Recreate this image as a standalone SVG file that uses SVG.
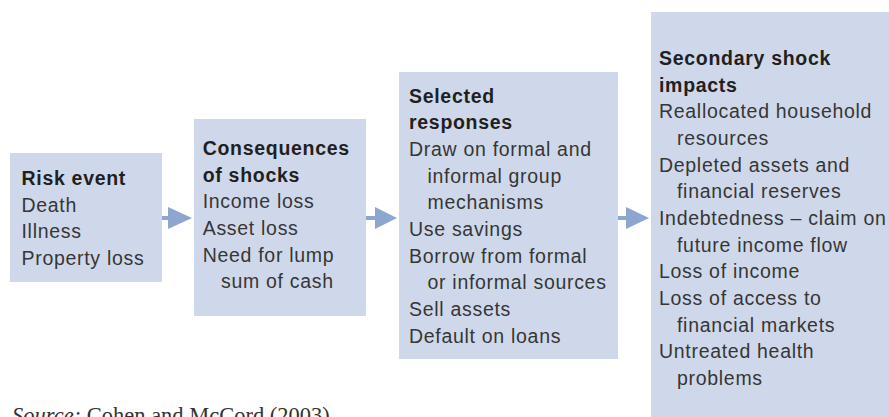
<svg xmlns="http://www.w3.org/2000/svg" width="889" height="417" viewBox="0 0 889 417">
<style>
.box{fill:#cfd8ea}
.t{font-family:"Liberation Sans",Arial,sans-serif;font-size:19.5px;letter-spacing:0.7px;fill:#363636}
.b{font-weight:bold;fill:#231f20}
.ln{stroke:#8ea6cf;stroke-width:4;fill:none}
.hd{fill:#8ea6cf}
.src{font-family:"Liberation Serif","Times New Roman",serif;font-size:22.5px;fill:#333}
</style>
<rect width="889" height="417" fill="#fff"/>
<g id="risk-event">
<rect class="box" x="10" y="153" width="152" height="129"/>
<text class="t"><tspan class="b" x="21.5" y="185">Risk event</tspan><tspan x="21.5" y="211.7">Death</tspan><tspan x="21.5" y="238.3">Illness</tspan><tspan x="21.5" y="265">Property loss</tspan></text>
</g>
<g id="consequences">
<rect class="box" x="194" y="119" width="172" height="197"/>
<text class="t"><tspan class="b" x="202.7" y="155">Consequences</tspan><tspan class="b" x="202.7" y="181.7">of shocks</tspan><tspan x="202.7" y="208.3">Income loss</tspan><tspan x="202.7" y="235">Asset loss</tspan><tspan x="202.7" y="261.7">Need for lump</tspan><tspan x="221" y="288.3">sum of cash</tspan></text>
</g>
<g id="responses">
<rect class="box" x="399" y="72" width="219" height="287"/>
<text class="t"><tspan class="b" x="409" y="102.7">Selected</tspan><tspan class="b" x="409" y="129.3">responses</tspan><tspan x="409" y="156">Draw on formal and</tspan><tspan x="427.5" y="182.7">informal group</tspan><tspan x="427.5" y="209.3">mechanisms</tspan><tspan x="409" y="236">Use savings</tspan><tspan x="409" y="262.7">Borrow from formal</tspan><tspan x="427.5" y="289.3">or informal sources</tspan><tspan x="409" y="316">Sell assets</tspan><tspan x="409" y="342.7">Default on loans</tspan></text>
</g>
<g id="secondary">
<rect class="box" x="651" y="12" width="238" height="405"/>
<text class="t"><tspan class="b" x="659" y="65">Secondary shock</tspan><tspan class="b" x="659" y="91.7">impacts</tspan><tspan x="659" y="118.3">Reallocated household</tspan><tspan x="677" y="145">resources</tspan><tspan x="659" y="171.7">Depleted assets and</tspan><tspan x="677" y="198.3">financial reserves</tspan><tspan x="659" y="225">Indebtedness – claim on</tspan><tspan x="677" y="251.7">future income flow</tspan><tspan x="659" y="278.3">Loss of income</tspan><tspan x="659" y="305">Loss of access to</tspan><tspan x="677" y="331.7">financial markets</tspan><tspan x="659" y="358.3">Untreated health</tspan><tspan x="677" y="385">problems</tspan></text>
</g>
<g id="connectors">
<line class="ln" x1="162" y1="218" x2="169" y2="218"/>
<polygon class="hd" points="168,207 192,218 168,229"/>
<line class="ln" x1="366" y1="218" x2="376" y2="218"/>
<polygon class="hd" points="375,207 397,218 375,229"/>
<line class="ln" x1="618" y1="218" x2="627" y2="218"/>
<polygon class="hd" points="626,207 649,218 626,229"/>
</g>
<text class="src" x="12" y="422.5"><tspan font-style="italic">Source:</tspan> Cohen and McCord (2003)</text>
</svg>
